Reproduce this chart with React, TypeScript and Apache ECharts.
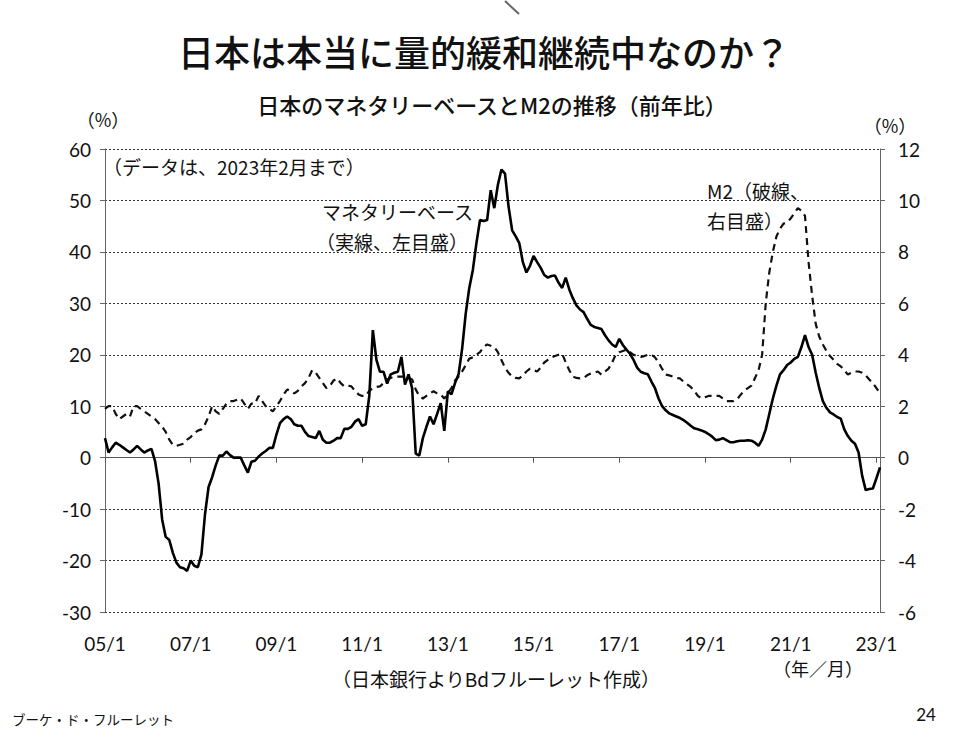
import React, { useEffect, useRef } from "react";
import * as echarts from "echarts";

const START_YEAR = 2005;
const MONTH_COUNT = 218; // 2005/1 .. 2023/2

const monetaryBase: number[] = [
  3.8, 1.0, 2.0, 2.9, 2.5, 2.0, 1.5, 1.0, 1.6, 2.3, 1.6, 1.0,
  1.4, 1.7, -0.6, -5.0, -12.0, -15.4, -16.0, -18.5, -20.4, -21.3, -21.5, -22.0,
  -20.0, -21.0, -21.3, -18.8, -11.0, -5.7, -3.8, -1.5, 0.4, 0.4, 1.2, 0.5,
  0.0, 0.0, 0.0, -1.5, -2.9, -0.8, -0.6, 0.2, 0.8, 1.3, 1.9, 1.9,
  4.5, 6.7, 7.5, 8.0, 7.5, 6.5, 6.2, 6.2, 5.0, 4.2, 4.0, 3.8,
  5.2, 3.5, 2.9, 2.9, 3.3, 3.8, 3.8, 5.6, 5.6, 6.0, 7.0, 7.5,
  6.2, 6.5, 12.0, 24.8, 19.0, 16.7, 16.7, 14.4, 16.2, 16.5, 16.7, 19.6,
  14.2, 16.2, 13.5, 0.8, 0.4, 3.8, 6.0, 8.0, 6.5, 8.5, 10.6, 5.2,
  12.9, 12.3, 14.5, 16.2, 21.2, 28.0, 33.0, 36.5, 41.7, 46.2, 46.0, 46.2,
  52.0, 48.5, 53.0, 56.0, 55.2, 48.8, 44.2, 43.0, 41.7, 38.0, 36.0, 37.3,
  39.2, 38.0, 36.9, 35.5, 35.0, 35.3, 35.4, 34.0, 33.0, 35.0, 32.7, 31.0,
  29.6, 28.8, 28.3, 27.0, 25.8, 25.4, 25.2, 25.0, 23.8, 22.8, 22.0, 21.5,
  23.1, 21.9, 21.0, 20.2, 19.0, 17.5, 16.7, 16.4, 16.2, 14.8, 13.5, 11.5,
  10.0, 9.2, 8.6, 8.3, 8.0, 7.7, 7.3, 6.8, 6.2, 5.7, 5.5, 5.3,
  5.0, 4.6, 4.1, 3.4, 3.5, 3.8, 3.4, 3.0, 3.0, 3.2, 3.3, 3.3,
  3.4, 3.3, 2.9, 2.3, 3.5, 5.5, 8.5, 11.5, 14.0, 16.2, 17.0, 18.0,
  18.5, 19.2, 19.6, 21.5, 23.8, 21.5, 20.0, 16.5, 13.5, 11.0, 9.7, 8.8,
  8.4, 7.9, 7.6, 5.5, 4.2, 3.3, 2.7, 1.0, -3.5, -6.3, -6.1, -6.0,
  -4.0, -1.9,
];

const m2: number[] = [
  1.9, 2.0, 2.0, 1.7, 1.5, 1.6, 1.7, 1.6, 2.0, 2.0, 1.9, 1.8,
  1.7, 1.6, 1.5, 1.35, 1.2, 1.0, 0.7, 0.5, 0.46, 0.5, 0.54, 0.7,
  0.8, 0.95, 1.05, 1.1, 1.3, 1.6, 2.0, 1.8, 1.7, 1.9, 2.1, 2.2,
  2.2, 2.25, 2.3, 2.1, 1.9, 2.1, 2.1, 2.4, 2.2, 2.0, 1.9, 1.8,
  2.0, 2.2, 2.45, 2.65, 2.6, 2.5, 2.6, 2.77, 2.9, 3.1, 3.4, 3.3,
  3.1, 2.9, 2.7, 2.8, 3.0, 3.08, 2.9, 2.77, 2.8, 2.77, 2.6, 2.46,
  2.4, 2.4, 2.6, 2.7, 2.75, 2.77, 2.9, 3.04, 3.1, 3.15, 3.15, 3.15,
  3.15, 3.1, 3.04, 2.65, 2.4, 2.3, 2.4, 2.5, 2.58, 2.5, 2.46, 2.3,
  2.5, 2.7, 3.0, 3.15, 3.35, 3.6, 3.85, 3.9, 4.0, 4.1, 4.3, 4.4,
  4.35, 4.3, 4.1, 3.8, 3.5, 3.3, 3.15, 3.1, 3.08, 3.2, 3.35, 3.46,
  3.4, 3.35, 3.5, 3.7, 3.8, 3.9, 3.95, 4.0, 4.04, 3.7, 3.4, 3.15,
  3.1, 3.08, 3.1, 3.2, 3.27, 3.3, 3.35, 3.23, 3.35, 3.46, 3.7, 4.0,
  4.1, 4.15, 4.2, 4.1, 4.0, 3.95, 3.92, 3.95, 4.0, 4.0, 3.9, 3.7,
  3.45, 3.23, 3.2, 3.15, 3.1, 3.08, 2.95, 2.85, 2.75, 2.6, 2.4, 2.3,
  2.35, 2.4, 2.4, 2.4, 2.4, 2.3, 2.2, 2.2, 2.2, 2.27, 2.45, 2.6,
  2.7, 2.8, 3.1, 3.4, 4.0, 6.0, 7.2, 8.0, 8.6, 8.9, 9.1, 9.15,
  9.3, 9.5, 9.7, 9.6, 9.4, 7.6, 6.3, 5.2, 4.7, 4.4, 4.15, 3.95,
  3.8, 3.65, 3.55, 3.4, 3.23, 3.3, 3.35, 3.35, 3.3, 3.2, 3.04, 2.9,
  2.7, 2.5,
];

const categories: string[] = [];
for (let i = 0; i < MONTH_COUNT; i++) {
  const y = START_YEAR + Math.floor(i / 12);
  const m = (i % 12) + 1;
  categories.push(String(y % 100).padStart(2, "0") + "/" + m);
}

const leftAxis = { min: -30, max: 60, interval: 10 };
const rightAxis = { min: -6, max: 12, interval: 2 };

const JP = "'Noto Sans CJK JP', 'Noto Sans', sans-serif";
const NUM = "Lato, 'Noto Sans', sans-serif";

export default function App() {
  const ref = useRef<HTMLDivElement>(null);
  useEffect(() => {
    if (!ref.current) return;
    const chart = echarts.init(ref.current, null, { renderer: "svg" });
    const gridLeft = 105;
    const gridRight = 85; // right edge at 880
    const gridTop = 149;
    const gridBottom = 128; // bottom at 612
    chart.setOption({
      animation: false,
      backgroundColor: "#ffffff",
      grid: { left: gridLeft, right: gridRight, top: gridTop, bottom: gridBottom, containLabel: false },
      xAxis: [
        {
          type: "category",
          data: categories,
          boundaryGap: false,
          axisLine: { show: true, onZero: true, onZeroAxisIndex: 0, lineStyle: { color: "#555", width: 1 } },
          axisTick: { show: true, interval: 23, length: 5, inside: false, lineStyle: { color: "#555" } },
          axisLabel: { show: false },
          splitLine: { show: false },
        },
        {
          type: "category",
          data: categories,
          boundaryGap: false,
          position: "bottom",
          axisLine: { show: false, onZero: false },
          axisTick: { show: false },
          axisLabel: { show: true, interval: 23, margin: 22, fontSize: 19, color: "#111", fontFamily: NUM },
          splitLine: { show: false },
        },
      ],
      yAxis: [
        {
          type: "value",
          position: "left",
          min: leftAxis.min,
          max: leftAxis.max,
          interval: leftAxis.interval,
          axisLine: { show: true, lineStyle: { color: "#666", width: 1 } },
          axisTick: { show: true, length: 5, lineStyle: { color: "#666" } },
          axisLabel: { fontSize: 19, color: "#111", fontFamily: NUM, margin: 14 },
          splitLine: { show: true, lineStyle: { color: "#333", type: [2, 2], width: 1 } },
        },
        {
          type: "value",
          position: "right",
          min: rightAxis.min,
          max: rightAxis.max,
          interval: rightAxis.interval,
          axisLine: { show: true, lineStyle: { color: "#666", width: 1 } },
          axisTick: { show: true, length: 5, lineStyle: { color: "#666" } },
          axisLabel: { fontSize: 19, color: "#111", fontFamily: NUM, margin: 18 },
          splitLine: { show: false },
        },
      ],
      series: [
        {
          name: "マネタリーベース",
          type: "line",
          xAxisIndex: 0,
          yAxisIndex: 0,
          data: monetaryBase,
          showSymbol: false,
          symbol: "none",
          lineStyle: { color: "#000", width: 2.6 },
          z: 3,
        },
        {
          name: "M2",
          type: "line",
          xAxisIndex: 0,
          yAxisIndex: 1,
          data: m2,
          showSymbol: false,
          symbol: "none",
          lineStyle: { color: "#111", width: 2.2, type: [7, 5] },
          z: 2,
        },
      ],
      graphic: [
        { type: "line", shape: { x1: 505, y1: 1, x2: 519, y2: 14 }, style: { stroke: "#666", lineWidth: 2 } },
        {
          type: "text", x: 484, y: 51,
          style: { text: "日本は本当に量的緩和継続中なのか？", font: `500 36px ${JP}`, fill: "#111", align: "center", verticalAlign: "middle" },
        },
        {
          type: "text", x: 492, y: 104,
          style: { text: "日本のマネタリーベースとM2の推移（前年比）", font: `500 22px ${JP}`, fill: "#111", align: "center", verticalAlign: "middle" },
        },
        {
          type: "text", x: 103, y: 119,
          style: { text: "（%）", font: `18px ${JP}`, fill: "#111", align: "center", verticalAlign: "middle" },
        },
        {
          type: "text", x: 890, y: 125,
          style: { text: "（%）", font: `18px ${JP}`, fill: "#111", align: "center", verticalAlign: "middle" },
        },
        {
          type: "text", x: 103, y: 166,
          style: { text: "（データは、2023年2月まで）", font: `19px ${JP}`, fill: "#111", align: "left", verticalAlign: "middle" },
        },
        {
          type: "text", x: 322, y: 211,
          style: { text: "マネタリーベース", font: `19px ${JP}`, fill: "#111", align: "left", verticalAlign: "middle" },
        },
        {
          type: "text", x: 316, y: 241,
          style: { text: "（実線、左目盛）", font: `19px ${JP}`, fill: "#111", align: "left", verticalAlign: "middle" },
        },
        {
          type: "text", x: 707, y: 190,
          style: { text: "M2（破線、", font: `19px ${JP}`, fill: "#111", align: "left", verticalAlign: "middle" },
        },
        {
          type: "text", x: 707, y: 220,
          style: { text: "右目盛）", font: `19px ${JP}`, fill: "#111", align: "left", verticalAlign: "middle" },
        },
        {
          type: "text", x: 496, y: 678,
          style: { text: "（日本銀行よりBdフルーレット作成）", font: `19px ${JP}`, fill: "#111", align: "center", verticalAlign: "middle" },
        },
        {
          type: "text", x: 818, y: 668,
          style: { text: "（年／月）", font: `18px ${JP}`, fill: "#111", align: "center", verticalAlign: "middle" },
        },
        {
          type: "text", x: 12, y: 719,
          style: { text: "ブーケ・ド・フルーレット", font: `13.5px ${JP}`, fill: "#111", align: "left", verticalAlign: "middle" },
        },
        {
          type: "text", x: 926, y: 714,
          style: { text: "24", font: `17px ${NUM}`, fill: "#111", align: "center", verticalAlign: "middle" },
        },
      ],
    });
    return () => chart.dispose();
  }, []);
  return (
    <div
      ref={ref}
      style={{ position: "fixed", left: 0, top: 0, width: 965, height: 740, background: "#fff" }}
    />
  );
}
